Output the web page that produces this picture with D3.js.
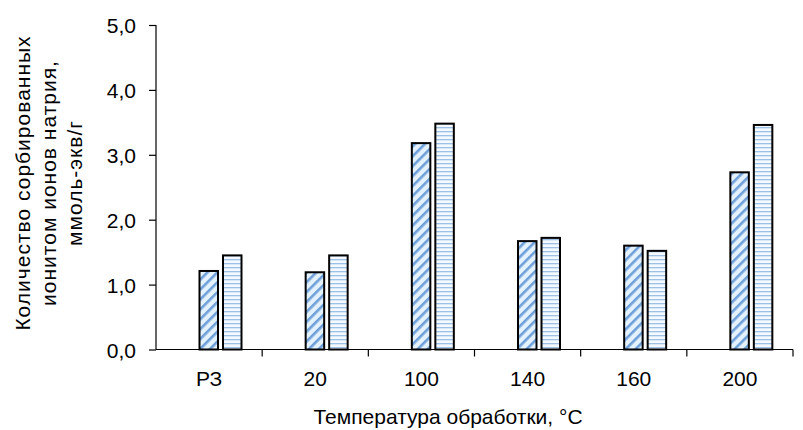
<!DOCTYPE html>
<html>
<head>
<meta charset="utf-8">
<script src="https://cdn.jsdelivr.net/npm/d3@7"></script>
<style>
  body { margin: 0; background: #fff; }
  text { font-family: "Liberation Sans", Arial, sans-serif; fill: #000; }
</style>
</head>
<body>
<script>
// categories and two series
var categories = ["РЗ", "20", "100", "140", "160", "200"];
var series1 = [1.21, 1.19, 3.18, 1.67, 1.60, 2.73];
var series2 = [1.45, 1.45, 3.48, 1.72, 1.52, 3.46];
var yTicks = [0, 1, 2, 3, 4, 5];

var margin = { top: 25, right: 10, bottom: 80, left: 156 },
    width = 793 - margin.left,
    height = 349.5 - margin.top;

var svg = d3.select("body").append("svg")
    .attr("width", 803)
    .attr("height", 430);

// hatch patterns
var defs = svg.append("defs");
var diag = defs.append("pattern")
    .attr("id", "diag")
    .attr("patternUnits", "userSpaceOnUse")
    .attr("width", 7).attr("height", 7)
    .attr("patternTransform", "rotate(45)");
diag.append("rect").attr("width", 7).attr("height", 7).attr("fill", "#e4f2ff");
diag.append("rect").attr("width", 2.6).attr("height", 7).attr("fill", "#6e9fd8");

var horiz = defs.append("pattern")
    .attr("id", "horiz")
    .attr("patternUnits", "userSpaceOnUse")
    .attr("width", 8).attr("height", 4);
horiz.append("rect").attr("width", 8).attr("height", 4).attr("fill", "#f4faff");
horiz.append("rect").attr("y", 2).attr("width", 8).attr("height", 1.3).attr("fill", "#9cc0e6");

var g = svg.append("g")
    .attr("transform", "translate(" + margin.left + "," + margin.top + ")");

var x = d3.scaleBand()
    .domain(categories)
    .range([0, width]);

var y = d3.scaleLinear()
    .domain([0, 5])
    .range([height, 0]);

var barW = 18.5, gap = 5, offset = 43.5;

var data = categories.map(function(c, i) {
    return { cat: c, v1: series1[i], v2: series2[i] };
});

// series 1 bars
g.selectAll(".bar1")
    .data(data)
    .enter().append("rect")
    .attr("class", "bar1")
    .attr("x", function(d) { return x(d.cat) + offset; })
    .attr("y", function(d) { return y(d.v1); })
    .attr("width", barW)
    .attr("height", function(d) { return height - y(d.v1); })
    .attr("fill", "url(#diag)")
    .attr("stroke", "#000")
    .attr("stroke-width", 2);

// series 2 bars
g.selectAll(".bar2")
    .data(data)
    .enter().append("rect")
    .attr("class", "bar2")
    .attr("x", function(d) { return x(d.cat) + offset + barW + gap; })
    .attr("y", function(d) { return y(d.v2); })
    .attr("width", barW)
    .attr("height", function(d) { return height - y(d.v2); })
    .attr("fill", "url(#horiz)")
    .attr("stroke", "#000")
    .attr("stroke-width", 2);

// Y axis
var yAxis = g.append("g")
    .call(d3.axisLeft(y).tickValues(yTicks).tickSize(7).tickPadding(13)
        .tickFormat(function(d) { return d3.format(".1f")(d).replace(".", ","); }));
yAxis.select(".domain").attr("d", "M0," + y(5) + "V" + height).attr("stroke-width", 1.2);
yAxis.selectAll(".tick line").attr("stroke-width", 1.2);
yAxis.selectAll("text").style("font-size", "21px").attr("fill", "#000").attr("dy", "0.36em");

// X axis, ticks at band boundaries
var xAxis = g.append("g")
    .attr("transform", "translate(0," + height + ")");
xAxis.append("line")
    .attr("x1", 0).attr("x2", width)
    .attr("stroke", "#000").attr("stroke-width", 1.2);
xAxis.selectAll(".xtick")
    .data(categories)
    .enter().append("line")
    .attr("x1", function(d) { return x(d) + x.bandwidth(); })
    .attr("x2", function(d) { return x(d) + x.bandwidth(); })
    .attr("y1", 0).attr("y2", 7)
    .attr("stroke", "#000").attr("stroke-width", 1.2);
xAxis.selectAll(".xlabel")
    .data(categories)
    .enter().append("text")
    .attr("x", function(d) { return x(d) + x.bandwidth() / 2; })
    .attr("y", 36.5)
    .attr("text-anchor", "middle")
    .style("font-size", "21px")
    .text(function(d) { return d; });

// X axis title
svg.append("text")
    .attr("x", 448)
    .attr("y", 424)
    .attr("text-anchor", "middle")
    .style("font-size", "21px")
    .text("Температура обработки, °С");

// Y axis title, three lines
var yTitle = ["Количество сорбированных", "ионитом ионов натрия,", "ммоль-экв/г"];
svg.append("g")
    .attr("transform", "translate(0,183) rotate(-90)")
    .selectAll("text")
    .data(yTitle)
    .enter().append("text")
    .attr("x", 0)
    .attr("y", function(d, i) { return 30 + i * 26; })
    .attr("text-anchor", "middle")
    .style("font-size", "21px")
    .style("letter-spacing", "1px")
    .text(function(d) { return d; });
</script>
</body>
</html>
